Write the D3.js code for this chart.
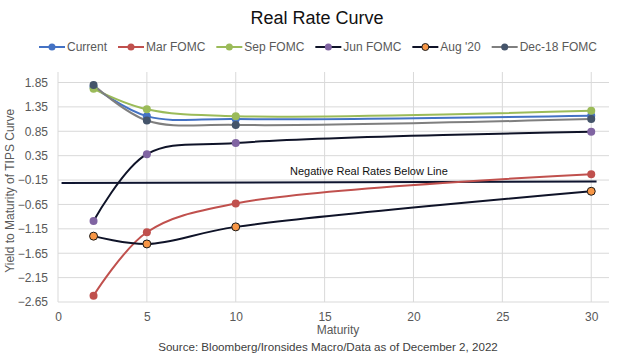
<!DOCTYPE html>
<html>
<head>
<meta charset="utf-8">
<script src="https://cdn.jsdelivr.net/npm/d3@7"></script>
<style>
  body { margin: 0; background: #fff; }
  text { font-family: "Liberation Sans", Arial, sans-serif; }
</style>
</head>
<body>
<script>
// data
const maturities = [2, 5, 10, 30];
const current = [1.76, 1.16, 1.10, 1.17];
const marFomc = [-2.52, -1.22, -0.63, -0.03];
const sepFomc = [1.72, 1.30, 1.16, 1.27];
const junFomc = [-0.99, 0.38, 0.61, 0.84];
const aug20 = [-1.30, -1.46, -1.11, -0.38];
const dec18Fomc = [1.80, 1.07, 0.98, 1.10];
const zeroLineX = [0.2, 30.3];
const zeroLineY = [-0.21, -0.18];
const yTicks = [1.85, 1.35, 0.85, 0.35, -0.15, -0.65, -1.15, -1.65, -2.15, -2.65];
const xTicks = [0, 5, 10, 15, 20, 25, 30];

const series = [
  { name: 'Current', values: current, line: '#4472C4', fill: '#4472C4', stroke: 'none' },
  { name: 'Mar FOMC', values: marFomc, line: '#C0504D', fill: '#C0504D', stroke: 'none' },
  { name: 'Sep FOMC', values: sepFomc, line: '#9BBB59', fill: '#9BBB59', stroke: 'none' },
  { name: 'Jun FOMC', values: junFomc, line: '#0F1328', fill: '#8064A2', stroke: 'none' },
  { name: "Aug '20", values: aug20, line: '#0F1328', fill: '#F79646', stroke: '#1a1a1a' },
  { name: 'Dec-18 FOMC', values: dec18Fomc, line: '#7F7F7F', fill: '#44546A', stroke: 'none' }
];

const width = 634, height = 363;
const svg = d3.select('body').append('svg')
  .attr('width', width)
  .attr('height', height);

const x = d3.scaleLinear().domain([0, 31]).range([58, 609]);
const y = d3.scaleLinear().domain([-2.65, 2.065]).range([302, 72]);

// gridlines
const grid = svg.append('g').classed('grid', true);
grid.selectAll('.hgrid')
  .data(yTicks)
  .enter()
  .append('line')
  .attr('x1', x(0)).attr('x2', x(31))
  .attr('y1', d => y(d)).attr('y2', d => y(d))
  .style('stroke', '#D9D9D9')
  .style('stroke-width', '1px');
grid.selectAll('.vgrid')
  .data(xTicks)
  .enter()
  .append('line')
  .attr('x1', d => x(d)).attr('x2', d => x(d))
  .attr('y1', y(-2.65)).attr('y2', y(2.065))
  .style('stroke', '#D9D9D9')
  .style('stroke-width', '1px');

// axes
const yAxis = svg.append('g')
  .attr('transform', `translate(${x(0)},0)`)
  .call(d3.axisLeft(y).tickValues(yTicks).tickSize(0).tickPadding(10).tickFormat(d3.format('.2f')));
const xAxis = svg.append('g')
  .attr('transform', `translate(0,${y(-2.65)})`)
  .call(d3.axisBottom(x).tickValues(xTicks).tickSize(0).tickPadding(10));
[yAxis, xAxis].forEach(a => {
  a.select('.domain').remove();
  a.selectAll('text')
    .style('font-size', '12px')
    .style('fill', '#595959')
    .style('font-family', '"Liberation Sans", Arial, sans-serif');
});

// horizontal "zero real rate" reference line
const refPts = zeroLineX.map((d, i) => [d, zeroLineY[i]]);
svg.append('path')
  .datum(refPts)
  .attr('d', d3.line().x(d => x(d[0])).y(d => y(d[1])))
  .style('fill', 'none')
  .style('stroke', '#0F1530')
  .style('stroke-width', '2px');

svg.append('text')
  .attr('x', 290)
  .attr('y', 175)
  .text('Negative Real Rates Below Line')
  .style('font-size', '11px')
  .style('fill', '#111');

// series lines
const line = d3.line()
  .x(d => x(d[0]))
  .y(d => y(d[1]))
  .curve(d3.curveCatmullRom.alpha(0.5));

const linesWrapper = svg.append('g').classed('lines', true);
const nodesWrapper = svg.append('g').classed('nodes', true);

series.forEach(s => {
  const pts = maturities.map((m, i) => [m, s.values[i]]);
  linesWrapper.append('path')
    .datum(pts)
    .attr('d', line)
    .style('fill', 'none')
    .style('stroke', s.line)
    .style('stroke-width', '2px');
  nodesWrapper.selectAll(null)
    .data(pts)
    .enter()
    .append('circle')
    .attr('cx', d => x(d[0]))
    .attr('cy', d => y(d[1]))
    .attr('r', 4)
    .style('fill', s.fill)
    .style('stroke', s.stroke)
    .style('stroke-width', '1px');
});

// title
svg.append('text')
  .attr('x', 317)
  .attr('y', 24)
  .attr('text-anchor', 'middle')
  .text('Real Rate Curve')
  .style('font-size', '18px')
  .style('fill', '#111');

// legend
const legend = svg.append('g').classed('legend', true);
let lx = 0;
series.forEach(s => {
  const g = legend.append('g');
  g.append('line')
    .attr('x1', 0).attr('x2', 26)
    .attr('y1', 0).attr('y2', 0)
    .style('stroke', s.line)
    .style('stroke-width', '2px');
  g.append('circle')
    .attr('cx', 13).attr('cy', 0).attr('r', 3.5)
    .style('fill', s.fill)
    .style('stroke', s.stroke)
    .style('stroke-width', '1px');
  const t = g.append('text')
    .attr('x', 28)
    .attr('y', 4)
    .text(s.name)
    .style('font-size', '12px')
    .style('fill', '#595959');
  const w = 28 + t.node().getComputedTextLength();
  g.attr('transform', `translate(${lx},0)`);
  lx += w + 11;
});
const legendWidth = lx - 11;
legend.attr('transform', `translate(${318 - legendWidth / 2},47)`);

// axis titles
svg.append('text')
  .attr('transform', `translate(14,${y(-0.37)}) rotate(-90)`)
  .attr('text-anchor', 'middle')
  .text('Yield to Maturity of TIPS Curve')
  .style('font-size', '12px')
  .style('fill', '#595959');

svg.append('text')
  .attr('x', 338)
  .attr('y', 334)
  .attr('text-anchor', 'middle')
  .text('Maturity')
  .style('font-size', '12px')
  .style('fill', '#595959');

svg.append('text')
  .attr('x', 328)
  .attr('y', 351)
  .attr('text-anchor', 'middle')
  .text('Source: Bloomberg/Ironsides Macro/Data as of December 2, 2022')
  .style('font-size', '11.6px')
  .style('fill', '#404040');
</script>
</body>
</html>
